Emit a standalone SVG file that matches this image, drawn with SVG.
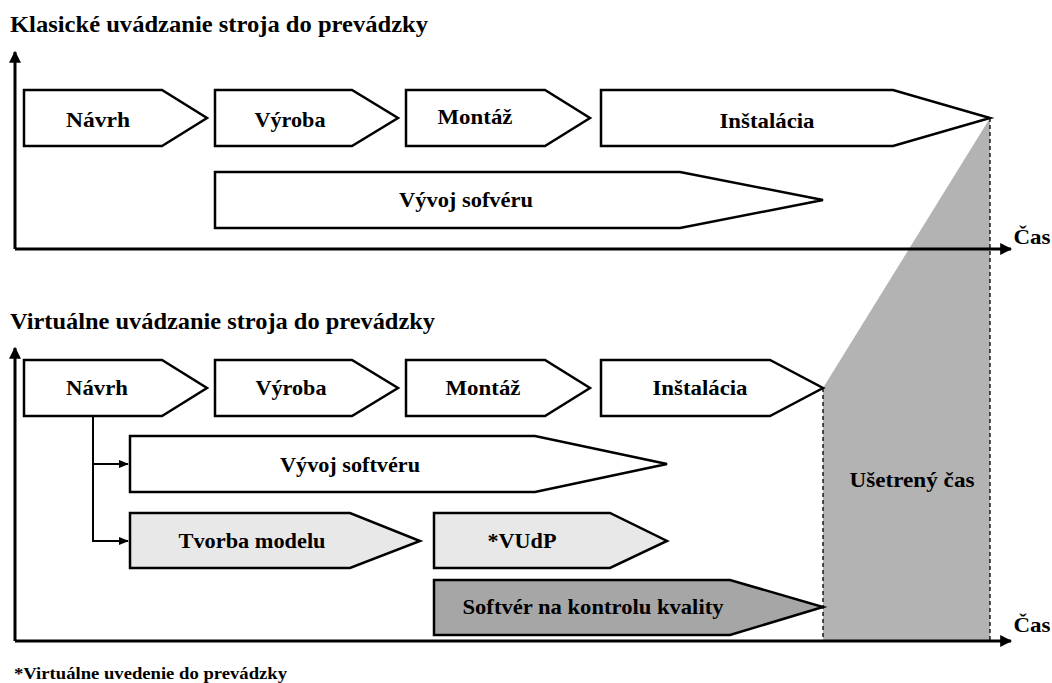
<svg xmlns="http://www.w3.org/2000/svg" width="1052" height="683" viewBox="0 0 1052 683" font-family="'Liberation Serif', serif" font-weight="bold">
<style>
text{font-family:'Liberation Serif',serif;font-weight:bold;fill:#000}
.title{font-size:24px}
.lbl{font-size:21px;text-anchor:middle}
.box{stroke:#000;stroke-width:2.5;fill:#fff}
.light{fill:#e8e8e8}
.dark{fill:#a6a6a6}
.axis{stroke:#000;stroke-width:3;fill:none}
.dash{stroke:#000;stroke-width:1.3;stroke-dasharray:4 3;fill:none}
.conn{stroke:#000;stroke-width:2;fill:none}
</style>
<defs>
<marker id="ax" viewBox="0 0 10 10" refX="9" refY="5" markerWidth="4" markerHeight="4" orient="auto" markerUnits="strokeWidth"><path d="M0,0 L10,5 L0,10 z" fill="#000"/></marker>
<marker id="ca" viewBox="0 0 10 10" refX="9" refY="5" markerWidth="5" markerHeight="5" orient="auto" markerUnits="strokeWidth"><path d="M0,1 L10,5 L0,9 z" fill="#000"/></marker>
</defs>
<rect width="1052" height="683" fill="#fff"/>
<g id="saved-time">
<polygon points="990,118 990,641 823,641 823,388" fill="#b3b3b3"/>
<line class="dash" x1="990" y1="118" x2="990" y2="641"/>
<line class="dash" x1="823" y1="388" x2="823" y2="641"/>
<text class="lbl" x="912" y="487" textLength="125" lengthAdjust="spacingAndGlyphs">Ušetrený čas</text>
</g>
<g id="axes">
<text class="title" x="10" y="32" textLength="418" lengthAdjust="spacingAndGlyphs">Klasické uvádzanie stroja do prevádzky</text>
<path class="axis" d="M15,249 L15,52" marker-end="url(#ax)"/>
<path class="axis" d="M15,249 L1011,249" marker-end="url(#ax)"/>
<text class="lbl" x="1032" y="244" textLength="37" lengthAdjust="spacingAndGlyphs">Čas</text>
<text class="title" x="10" y="329" textLength="425" lengthAdjust="spacingAndGlyphs">Virtuálne uvádzanie stroja do prevádzky</text>
<path class="axis" d="M15,641 L15,348" marker-end="url(#ax)"/>
<path class="axis" d="M15,641 L1011,641" marker-end="url(#ax)"/>
<text class="lbl" x="1032" y="632" textLength="37" lengthAdjust="spacingAndGlyphs">Čas</text>
<text x="14" y="679" style="font-size:16px" textLength="273" lengthAdjust="spacingAndGlyphs">*Virtuálne uvedenie do prevádzky</text>
</g>
<g id="c-navrh"><polygon class="box" points="24,90 162,90 207,118 162,146 24,146"/><text class="lbl" x="98" y="127" textLength="64" lengthAdjust="spacingAndGlyphs">Návrh</text></g>
<g id="c-vyroba"><polygon class="box" points="215,90 352,90 398,118 352,146 215,146"/><text class="lbl" x="290" y="127" textLength="71" lengthAdjust="spacingAndGlyphs">Výroba</text></g>
<g id="c-montaz"><polygon class="box" points="406,90 545,90 590,118 545,146 406,146"/><text class="lbl" x="475" y="124" textLength="75" lengthAdjust="spacingAndGlyphs">Montáž</text></g>
<g id="c-instalacia"><polygon class="box" points="601,90 893,90 990,118 893,146 601,146"/><text class="lbl" x="767" y="128" textLength="95" lengthAdjust="spacingAndGlyphs">Inštalácia</text></g>
<g id="c-vyvoj"><polygon class="box" points="215,172 680,172 823,200 680,228 215,228"/><text class="lbl" x="466" y="207" textLength="134" lengthAdjust="spacingAndGlyphs">Vývoj sofvéru</text></g>
<g id="v-navrh"><polygon class="box" points="24,360 162,360 207,388 162,416 24,416"/><text class="lbl" x="97" y="395" textLength="62" lengthAdjust="spacingAndGlyphs">Návrh</text></g>
<g id="v-vyroba"><polygon class="box" points="215,360 352,360 398,388 352,416 215,416"/><text class="lbl" x="291" y="395" textLength="71" lengthAdjust="spacingAndGlyphs">Výroba</text></g>
<g id="v-montaz"><polygon class="box" points="406,360 545,360 590,388 545,416 406,416"/><text class="lbl" x="483" y="395" textLength="75" lengthAdjust="spacingAndGlyphs">Montáž</text></g>
<g id="v-instalacia"><polygon class="box" points="601,360 770,360 823,388 770,416 601,416"/><text class="lbl" x="700" y="395" textLength="95" lengthAdjust="spacingAndGlyphs">Inštalácia</text></g>
<g id="v-vyvoj"><polygon class="box" points="130,436 535,436 667,464 535,492 130,492"/><text class="lbl" x="350" y="472" textLength="140" lengthAdjust="spacingAndGlyphs">Vývoj softvéru</text></g>
<g id="v-tvorba"><polygon class="box light" points="130,513 350,513 420,541 350,568 130,568"/><text class="lbl" x="252" y="548" textLength="147" lengthAdjust="spacingAndGlyphs">Tvorba modelu</text></g>
<g id="v-vudp"><polygon class="box light" points="434,513 610,513 667,541 610,568 434,568"/><text class="lbl" x="522" y="548" textLength="69" lengthAdjust="spacingAndGlyphs">*VUdP</text></g>
<g id="v-softver"><polygon class="box dark" points="434,580 730,580 823,607 730,635 434,635"/><text class="lbl" x="593" y="614" textLength="261" lengthAdjust="spacingAndGlyphs">Softvér na kontrolu kvality</text></g>
<g id="connectors">
<path class="conn" d="M93,416 L93,541 L128,541" marker-end="url(#ca)"/>
<path class="conn" d="M93,464 L128,464" marker-end="url(#ca)"/>
</g>
</svg>
